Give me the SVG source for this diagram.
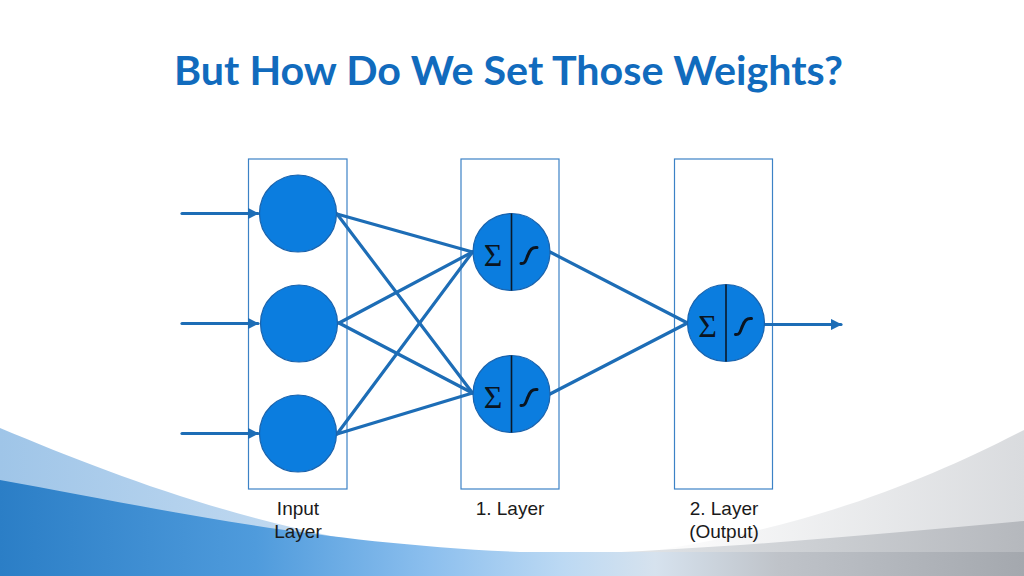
<svg xmlns="http://www.w3.org/2000/svg" width="1024" height="576" viewBox="0 0 1024 576">
  <defs>
    <style>
      .box { fill: none; stroke: #3c82c6; stroke-width: 1.2; }
      .node { fill: #0b7ddf; stroke: #1a63ad; stroke-width: 1.2; }
      .div { stroke: #0a1a2a; stroke-width: 1.6; }
      .sig { font-family: "Liberation Serif", "DejaVu Serif", serif; font-size: 32px; fill: #0a1420; text-anchor: middle; }
      .sgm { fill: none; stroke: #0a1420; stroke-width: 3; stroke-linecap: round; }
      .edge { stroke: #1d6db6; stroke-width: 3.2; fill: none; stroke-linecap: round; }
      .lbl { font-family: "Liberation Sans", Arial, sans-serif; font-size: 19px; fill: #1a1a1a; text-anchor: middle; }
      .title { font-family: Lato, "Open Sans", sans-serif; font-weight: bold; font-size: 40px; fill: #116bbd; }
    </style>
    <marker id="arr" viewBox="0 0 10 10" refX="9" refY="5" markerWidth="3.6" markerHeight="3.6" orient="auto" markerUnits="strokeWidth">
      <path d="M0,0 L10,5 L0,10 Z" fill="#1d6db6"/>
    </marker>
    <linearGradient id="band" gradientUnits="userSpaceOnUse" x1="0" y1="0" x2="1024" y2="0">
      <stop offset="0" stop-color="#2b7ec6"/>
      <stop offset="0.25" stop-color="#4f9bdc"/>
      <stop offset="0.42" stop-color="#8cbfee"/>
      <stop offset="0.55" stop-color="#bcd9f3"/>
      <stop offset="0.64" stop-color="#d6e2ee"/>
      <stop offset="0.76" stop-color="#bfc3c9"/>
      <stop offset="1" stop-color="#a4a8ae"/>
    </linearGradient>
    <linearGradient id="lightb" gradientUnits="userSpaceOnUse" x1="0" y1="0" x2="420" y2="0">
      <stop offset="0" stop-color="#9fc5e8"/>
      <stop offset="1" stop-color="#cfe2f4"/>
    </linearGradient>
    <linearGradient id="grayA" gradientUnits="userSpaceOnUse" x1="640" y1="0" x2="1024" y2="0">
      <stop offset="0" stop-color="#ffffff"/>
      <stop offset="1" stop-color="#d9dbde"/>
    </linearGradient>
    <linearGradient id="grayB" gradientUnits="userSpaceOnUse" x1="600" y1="0" x2="1024" y2="0">
      <stop offset="0" stop-color="#e4e7ea"/>
      <stop offset="1" stop-color="#b5b8bd"/>
    </linearGradient>
  </defs>

  <rect width="1024" height="576" fill="#ffffff"/>

  <g id="background">
    <path d="M0,428 C120,478 250,528 430,553 L0,553 Z" fill="url(#lightb)"/>
    <path d="M1024,430 C930,478 820,526 640,553 L1024,553 Z" fill="url(#grayA)"/>
    <path d="M1024,521 C900,532 760,546 600,553 L1024,553 Z" fill="url(#grayB)"/>
    <path d="M0,480 C140,505 300,542 520,552 L1024,552 L1024,576 L0,576 Z" fill="url(#band)"/>
  </g>

  <text class="title" x="174" y="85" textLength="669" lengthAdjust="spacingAndGlyphs">But How Do We Set Those Weights?</text>

  <g id="layer-boxes">
    <rect id="box-input" class="box" x="248.5" y="159" width="98.5" height="330"/>
    <rect id="box-hidden" class="box" x="461" y="159" width="98" height="330"/>
    <rect id="box-output" class="box" x="674.5" y="159" width="98" height="330"/>
  </g>

  <g id="connectors">
    <line class="edge" x1="182" y1="213.5" x2="258" y2="213.5" marker-end="url(#arr)"/>
    <line class="edge" x1="182" y1="323.5" x2="258" y2="323.5" marker-end="url(#arr)"/>
    <line class="edge" x1="182" y1="433.5" x2="258" y2="433.5" marker-end="url(#arr)"/>
    <line class="edge" x1="337" y1="214" x2="472.5" y2="252"/>
    <line class="edge" x1="337" y1="214" x2="472.5" y2="393"/>
    <line class="edge" x1="339" y1="323" x2="472.5" y2="252"/>
    <line class="edge" x1="339" y1="323" x2="472.5" y2="393"/>
    <line class="edge" x1="337" y1="434" x2="472.5" y2="252"/>
    <line class="edge" x1="337" y1="434" x2="472.5" y2="393"/>
    <line class="edge" x1="550" y1="252" x2="687.5" y2="323"/>
    <line class="edge" x1="550" y1="394" x2="687.5" y2="323"/>
    <line class="edge" x1="765" y1="324.5" x2="841" y2="324.5" marker-end="url(#arr)"/>
  </g>

  <g id="input-1"><circle class="node" cx="298" cy="213.5" r="38.5"/></g>
  <g id="input-2"><circle class="node" cx="299" cy="323.5" r="38.5"/></g>
  <g id="input-3"><circle class="node" cx="298" cy="433.5" r="38.5"/></g>

  <g id="hidden-1">
    <circle class="node" cx="511.5" cy="252" r="38.5"/>
    <line class="div" x1="511.5" y1="213.5" x2="511.5" y2="290.5"/>
    <text class="sig" x="493" y="266">Σ</text>
    <path class="sgm" d="M521,263.5 C526,264 526,259 528,255 C530,250 532,247 537,247.5"/>
  </g>
  <g id="hidden-2">
    <circle class="node" cx="511.5" cy="394" r="38.5"/>
    <line class="div" x1="511.5" y1="355.5" x2="511.5" y2="432.5"/>
    <text class="sig" x="493" y="408">Σ</text>
    <path class="sgm" d="M521,405.5 C526,406 526,401 528,397 C530,392 532,389 537,389.5"/>
  </g>
  <g id="output">
    <circle class="node" cx="726" cy="323" r="38.5"/>
    <line class="div" x1="726" y1="284.5" x2="726" y2="361.5"/>
    <text class="sig" x="707.5" y="337">Σ</text>
    <path class="sgm" d="M735.5,334.5 C740.5,335 740.5,330 742.5,326 C744.5,321 746.5,318 751.5,318.5"/>
  </g>

  <g id="labels">
    <text class="lbl" x="298" y="515">Input</text>
    <text class="lbl" x="298" y="538">Layer</text>
    <text class="lbl" x="510" y="515">1. Layer</text>
    <text class="lbl" x="724" y="515">2. Layer</text>
    <text class="lbl" x="724" y="538">(Output)</text>
  </g>
</svg>
